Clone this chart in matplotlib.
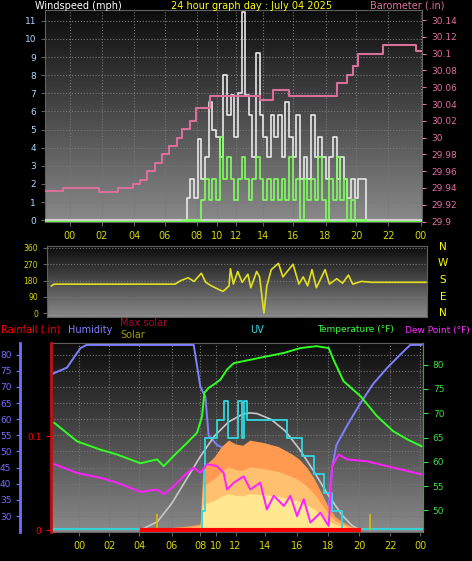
import numpy as np
import matplotlib
matplotlib.use("Agg")
import matplotlib.pyplot as plt

# ---- top panel: wind + barometer (hours) ----
wind_t = [7.75, 8.0, 8.25, 8.5, 8.75, 9.0, 9.25, 9.5, 9.75, 10.0, 10.25, 10.5, 10.75, 11.0, 11.25,
          11.5, 11.75, 12.0, 12.25, 12.5, 12.75, 13.0, 13.25, 13.5, 13.75, 14.0, 14.25, 14.5, 14.75,
          15.0, 15.25, 15.5, 15.75, 16.0, 16.25, 16.5, 16.75, 17.0, 17.25, 17.5, 17.75, 18.0, 18.25,
          18.5, 18.75, 19.0, 19.25, 19.5, 19.75, 20.0, 20.25]
gust = [0, 1.2, 2.3, 1.2, 4.5, 2.3, 3.5, 6.5, 5.0, 4.6, 3.5, 8.0, 5.8, 6.9, 4.6, 7.0, 11.5, 6.9, 5.8,
        3.5, 9.2, 5.8, 4.6, 3.5, 5.8, 4.6, 5.8, 3.5, 6.5, 4.6, 3.5, 5.8, 2.3, 3.5, 2.3, 5.8, 3.5, 4.6,
        3.5, 2.3, 3.5, 4.6, 2.3, 3.5, 2.3, 1.2, 2.3, 1.2, 2.3, 2.3, 0]
avg = [0, 0, 0, 0, 0, 1.1, 2.3, 1.1, 2.3, 1.1, 4.6, 2.3, 3.5, 2.3, 1.1, 2.3, 3.5, 2.3, 1.1, 2.3, 3.5,
       2.3, 1.1, 2.3, 1.1, 2.3, 1.1, 2.3, 1.1, 3.5, 1.1, 2.3, 0, 2.3, 1.1, 2.3, 1.1, 3.5, 1.1, 0, 2.3,
       1.1, 3.5, 1.1, 2.3, 0, 1.1, 0, 0, 0, 0]
baro_t = [-1.6, -0.5, 1.0, 2.0, 3.3, 4.3, 4.8, 5.3, 5.8, 6.3, 6.8, 7.3, 7.7, 8.2, 8.6, 9.6, 13.0, 13.9,
          15.0, 17.5, 18.3, 19.0, 19.4, 19.7, 21.4, 23.7, 24.1]
baro = [29.937, 29.94, 29.94, 29.935, 29.94, 29.945, 29.95, 29.96, 29.97, 29.98, 29.99, 30.0, 30.01,
        30.02, 30.035, 30.049, 30.045, 30.057, 30.049, 30.049, 30.065, 30.075, 30.085, 30.10, 30.11,
        30.103, 30.103]

# ---- middle panel: wind direction ----
dir_t = [-1.4, -1.2, 7.1, 7.5, 8.0, 8.4, 8.9, 9.2, 9.6, 10.1, 10.4, 10.8, 10.9, 11.1, 11.4, 11.7, 12.1,
         12.3, 12.7, 12.9, 13.2, 13.4, 13.7, 14.2, 14.5, 15.2, 15.6, 15.9, 16.2, 16.5, 16.8, 17.4,
         17.7, 18.2, 18.6, 19.0, 19.3, 19.9, 20.6, 24.5]
wdir = [150, 160, 160, 180, 195, 175, 220, 170, 150, 130, 120, 150, 245, 160, 230, 170, 215, 140, 230,
        200, 0, 150, 240, 275, 200, 270, 160, 200, 150, 240, 140, 240, 160, 190, 165, 210, 160, 175,
        170, 170]

# ---- bottom panel ----
hum_t = [-1.92, -0.87, 0.07, 0.5, 8.05, 8.52, 8.87, 9.1, 9.7, 10.16, 10.63, 11.34, 12.28, 13.2, 14.4,
         15.56, 16.7, 17.56, 17.8, 18.1, 18.85, 19.8, 20.7, 21.7, 22.6, 23.3, 24.1]
hum = [74, 76, 82, 83, 83, 70, 67, 55, 52, 51, 46, 44, 45, 42, 38, 35, 33, 33, 45, 52, 58, 65, 71, 76,
       80, 83, 83]
temp_t = [-1.76, -0.16, 1.48, 2.65, 4.3, 5.47, 5.94, 6.64, 7.58, 8.29, 8.64, 8.8, 9.1, 9.46, 9.93, 10.4,
          10.87, 12.04, 13.2, 14.4, 15.56, 16.7, 17.56, 17.9, 18.6, 19.8, 20.96, 22.1, 23.1, 24.1]
temp = [68, 64.2, 62.5, 61.5, 59.7, 60.5, 59.1, 61.2, 63.9, 66, 69.4, 74.2, 75.2, 75.9, 76.9, 79, 80.3,
        81, 81.7, 82.4, 83.4, 83.8, 83.4, 81, 76.6, 73.5, 69.4, 66.3, 64.6, 63.2]
dew_t = [-1.76, -0.16, 1.48, 2.65, 4.3, 5.47, 5.94, 6.64, 7.58, 8.05, 8.52, 8.99, 9.7, 10.16, 10.4,
         10.87, 11.57, 12.04, 12.74, 13.2, 13.69, 14.4, 14.86, 15.33, 15.8, 16.27, 16.97, 17.56, 17.8,
         18.27, 18.85, 20.26, 21.67, 23.1, 24.1]
dew = [59.5, 57.7, 56.7, 55.7, 53.8, 54.3, 53.3, 55, 57.7, 58.8, 57.7, 59.5, 59.1, 57.7, 54.3, 55.7, 57,
       54.3, 55.7, 50.2, 53, 50.9, 53, 48.8, 52.3, 47.5, 49.5, 46.8, 59.1, 61.5, 60.5, 60.1, 59.1, 58.1,
       57.4]
uv_t = [-2.0, 8.64, 8.87, 9.7, 10.16, 10.46, 11.2, 11.43, 11.6, 11.8, 14.6, 15.7, 16.5, 17.2, 17.8,
        18.5, 24.2]
uv = [0, 1, 5, 6, 7, 5, 7, 5, 7, 6, 5, 4, 3, 2, 1, 0, 0]
maxsol_t = [4.4, 5.5, 6.5, 7.5, 8.5, 9.5, 10.5, 11.5, 12.0, 12.5, 13.5, 14.5, 15.5, 16.5, 17.5, 18.5,
            19.2, 19.7]
maxsol = [0, 60, 200, 380, 560, 720, 830, 890, 900, 895, 850, 760, 620, 450, 270, 110, 30, 0]
sol_t = [4.4, 5.5, 6.5, 7.5, 8.5, 8.7, 9.5, 10.0, 10.5, 11.0, 11.5, 12.0, 12.5, 13.0, 14.0, 15.0, 15.5,
         16.0, 16.5, 17.0, 17.5, 18.0, 18.5, 19.0, 19.7, 20.0]
sol = [0, 5, 15, 25, 40, 480, 560, 640, 690, 660, 650, 690, 680, 670, 640, 580, 540, 480, 400, 290,
       180, 100, 60, 30, 5, 0]
rain_t = [4.4, 19.7]
rain = [0, 0]
sun_marks = [5.5, 20.5]

top_ticks = [0, 2.2, 4.4, 6.5, 8.7, 10.1, 11.4, 13.2, 15.3, 17.5, 19.6, 21.8, 24.0]
bot_ticks = [0, 2.1, 4.2, 6.5, 8.5, 9.6, 11.0, 13.1, 15.3, 17.5, 19.7, 21.9, 24.0]
tick_lbl = ["00", "02", "04", "06", "08", "10", "12", "14", "16", "18", "20", "22", "00"]

W, H = 472, 561
FS = 6.5
fig = plt.figure(figsize=(W / 100, H / 100), dpi=100, facecolor="black")


def box(l, t, r, b):
    return [l / W, 1 - b / H, (r - l) / W, (b - t) / H]


grad = np.linspace(0, 1, 256).reshape(-1, 1)


def style(ax):
    ax.set_facecolor("black")
    ax.imshow(grad, extent=[0, 1, 0, 1], transform=ax.transAxes, aspect="auto",
              cmap=matplotlib.colors.LinearSegmentedColormap.from_list("g", ["#0c0c0c", "#8a8a8a"]),
              zorder=0, vmin=0, vmax=1)
    ax.grid(True, color="#777777", linestyle=":", linewidth=0.8)
    for s in ax.spines.values():
        s.set_color("#606060")
    ax.tick_params(labelsize=FS, length=3, colors="#606060")


# top
ax1 = fig.add_axes(box(45, 10, 422, 222))
style(ax1)
ax1.set_xlim(-1.7, 24.1)
ax1.set_ylim(-0.1, 11.6)
ax1.set_yticks(range(0, 12))
ax1.set_xticks(top_ticks)
ax1.set_xticklabels(tick_lbl, color="#d8d800", fontsize=7)
for lab in ax1.get_yticklabels():
    lab.set_color("#b0d8ff")
ax1.step(wind_t, gust, where="post", color="#e8e8e8", lw=1.2, zorder=3)
ax1.step(wind_t, avg, where="post", color="#80ff60", lw=1.2, zorder=4)
ax1.axhline(0, color="#d0d0d0", lw=1.5, zorder=3)
ax1.axhline(-0.08, color="#60ff40", lw=1.5, zorder=3)
ax1b = ax1.twinx()
ax1b.set_ylim(29.8995, 30.152)
ax1b.set_yticks(np.arange(29.90, 30.141, 0.02))
ax1b.set_yticklabels(["29.9", "29.92", "29.94", "29.96", "29.98", "30", "30.02", "30.04", "30.06",
                      "30.08", "30.1", "30.12", "30.14"], color="#e070a0")
ax1b.tick_params(labelsize=FS, colors="#e070a0", length=3)
ax1b.step(baro_t, baro, where="post", color="#d8709a", lw=1.5, zorder=5)
for s in ax1b.spines.values():
    s.set_visible(False)

fig.text(35 / W, 1 - 6 / H, "Windspeed (mph)", color="white", fontsize=7, va="center")
fig.text(252 / W, 1 - 6 / H, "24 hour graph day : July 04 2025", color="yellow", fontsize=7,
         va="center", ha="center")
fig.text(445 / W, 1 - 6 / H, "Barometer (.in)", color="#e070a0", fontsize=7, va="center", ha="right")

# middle
ax2 = fig.add_axes(box(47, 246, 427, 317))
style(ax2)
ax2.set_xlim(-1.7, 24.4)
ax2.set_ylim(-22, 371)
ax2.set_yticks([0, 90, 180, 270, 360])
ax2.set_xticks([])
for lab in ax2.get_yticklabels():
    lab.set_color("#d8d800")
ax2.tick_params(labelsize=5.5)
ax2.plot(dir_t, wdir, color="#e0e020", lw=1.2, zorder=3)
for i, c in enumerate("NWSEN"):
    fig.text(443 / W, 1 - (247 + i * 16.5) / H, c, color="yellow", fontsize=7.5, ha="center", va="center")

# bottom
ax3 = fig.add_axes(box(51, 343, 423, 532))
style(ax3)
ax3.set_xlim(-2.0, 24.2)
ax3.set_ylim(25.05, 83.6)
ax3.set_yticks(range(30, 81, 5))
ax3.set_xticks(bot_ticks)
ax3.set_xticklabels(tick_lbl, color="#d8d800", fontsize=7)
ax3.spines["left"].set_position(("outward", 22))
ax3.spines["left"].set_color("#7070ff")
ax3.spines["left"].set_linewidth(2)
ax3.tick_params(axis="y", colors="#7070ff", labelsize=FS)
for lab in ax3.get_xticklabels():
    lab.set_color("#d8d800")

axs = ax3.twinx()
axs.set_ylim(-20, 1440)
axs.axis("off")
axs.fill_between(sol_t, sol, color="#ff9a50", lw=0, zorder=2)
axs.fill_between(sol_t, [v * 0.7 for v in sol], color="#ffc070", lw=0, zorder=2)
axs.fill_between(sol_t, [v * 0.4 for v in sol], color="#ffe890", lw=0, zorder=2)
axs.plot(maxsol_t, maxsol, color="#c8c8c8", lw=1.2, zorder=3)

axu = ax3.twinx()
axu.set_ylim(-0.15, 10.2)
axu.axis("off")
axu.step(uv_t, uv, where="post", color="#30d8e0", lw=1.3, zorder=4)

axr = ax3.twinx()
axr.yaxis.set_ticks_position("left")
axr.yaxis.set_label_position("left")
axr.set_ylim(-0.002, 0.199)
axr.set_yticks([0, 0.1])
axr.set_yticklabels(["0", "0.1"])
axr.tick_params(colors="red", labelsize=FS)
axr.spines["left"].set_color("#c01010")
axr.spines["left"].set_linewidth(2)
for k in ("right", "top", "bottom"):
    axr.spines[k].set_visible(False)
axr.plot(rain_t, rain, color="red", lw=3, zorder=5)
axr.vlines(sun_marks, 0, 0.017, color="#d8c000", lw=1.2)

axt = ax3.twinx()
axt.set_ylim(45.55, 84.45)
axt.set_yticks(range(50, 81, 5))
axt.tick_params(colors="#40e040", labelsize=FS)
for k in ("left", "top", "bottom"):
    axt.spines[k].set_visible(False)
axt.spines["right"].set_color("#40a040")
ax3.set_zorder(1)
for a in (axs, axu, axr, axt):
    a.set_zorder(ax3.get_zorder() + 1)
axt.plot(temp_t, temp, color="#30ff20", lw=1.4)
axt.plot(dew_t, dew, color="#ff20ff", lw=1.4)
axh = ax3.twinx()
axh.set_ylim(25.05, 83.6)
axh.axis("off")
axh.set_zorder(axt.get_zorder() - 0.5)
axh.plot(hum_t, hum, color="#8080ff", lw=1.4)

fig.text(1 / W, 1 - 330 / H, "Rainfall (.in)", color="red", fontsize=7, va="center")
fig.text(68 / W, 1 - 330 / H, "Humidity", color="#8080ff", fontsize=7, va="center")
fig.text(120 / W, 1 - 323 / H, "Max solar", color="#a01030", fontsize=7, va="center")
fig.text(120 / W, 1 - 335 / H, "Solar", color="#a0a000", fontsize=7, va="center")
fig.text(257 / W, 1 - 330 / H, "UV", color="#30d8e0", fontsize=7, va="center", ha="center")
fig.text(317 / W, 1 - 330 / H, "Temperature (°F)", color="#40ff40", fontsize=6.5, va="center")
fig.text(470 / W, 1 - 330 / H, "Dew Point (°F)", color="#ff30ff", fontsize=6.5, va="center", ha="right")

fig.savefig("out.png", dpi=100, facecolor="black")
